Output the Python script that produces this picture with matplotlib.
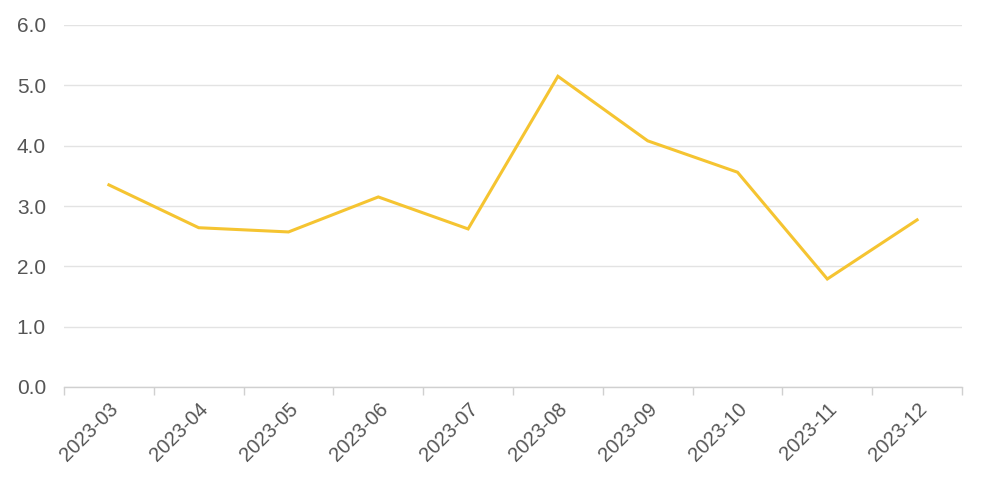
import matplotlib
matplotlib.use("Agg")
import matplotlib.pyplot as plt

months = ["2023-03", "2023-04", "2023-05", "2023-06", "2023-07",
          "2023-08", "2023-09", "2023-10", "2023-11", "2023-12"]
values = [3.35, 2.64, 2.57, 3.15, 2.62, 5.15, 4.08, 3.56, 1.79, 2.77]

plt.rcParams['font.family'] = ['Liberation Sans', 'DejaVu Sans']

fig = plt.figure(figsize=(9.9, 4.79), dpi=100)
ax = fig.add_axes([64/990, 1-387/479, (962-64)/990, (387-25)/479])

x = list(range(len(months)))
ax.plot(x, values, color="#F5C431", linewidth=2.2, solid_joinstyle='miter')

ax.set_xlim(-0.5, len(months)-0.5)
ax.set_ylim(0, 6)
ax.set_yticks([0, 1, 2, 3, 4, 5, 6])
ax.set_yticklabels([f"{v:.1f}" for v in [0, 1, 2, 3, 4, 5, 6]])
ax.grid(axis='y', color="#E3E3E3", linewidth=1.0)
ax.set_axisbelow(True)

for s in ["top", "right", "left"]:
    ax.spines[s].set_visible(False)
ax.spines["bottom"].set_color("#D0D0D0")
ax.spines["bottom"].set_linewidth(1.0)

# category boundary ticks
ax.set_xticks([i - 0.5 for i in range(len(months) + 1)], minor=False)
ax.set_xticklabels([""] * (len(months) + 1))
ax.tick_params(axis='x', which='major', length=6, color="#D0D0D0", width=1.0)
ax.set_xticks(x, minor=True)
ax.set_xticklabels(months, minor=True, rotation=45, ha='right',
                   rotation_mode='anchor', fontsize=14.5, color="#555555")
ax.tick_params(axis='x', which='minor', length=0, pad=9)
ax.tick_params(axis='y', length=0, labelsize=15, labelcolor="#555555", pad=13)

fig.savefig("out.png", dpi=100, facecolor="white")
